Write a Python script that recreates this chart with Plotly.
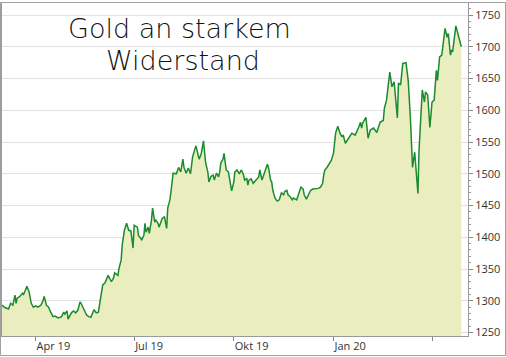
import plotly.graph_objects as go

dates = [
    "2019-03-01", "2019-03-04", "2019-03-07", "2019-03-09", "2019-03-11", "2019-03-13", "2019-03-14",
    "2019-03-15", "2019-03-17", "2019-03-20", "2019-03-21", "2019-03-24", "2019-03-26", "2019-03-28",
    "2019-03-30", "2019-04-01", "2019-04-03", "2019-04-06", "2019-04-08", "2019-04-09", "2019-04-11",
    "2019-04-13", "2019-04-15", "2019-04-17", "2019-04-19", "2019-04-22", "2019-04-25", "2019-04-27",
    "2019-04-28", "2019-04-30", "2019-05-01", "2019-05-04", "2019-05-06", "2019-05-08", "2019-05-10",
    "2019-05-12", "2019-05-13", "2019-05-15", "2019-05-18", "2019-05-20", "2019-05-22", "2019-05-24",
    "2019-05-25", "2019-05-27", "2019-05-29", "2019-05-31", "2019-06-02", "2019-06-04", "2019-06-06",
    "2019-06-07", "2019-06-10", "2019-06-12", "2019-06-13", "2019-06-16", "2019-06-17", "2019-06-19",
    "2019-06-20", "2019-06-22", "2019-06-24", "2019-06-26", "2019-06-28", "2019-06-30", "2019-07-01",
    "2019-07-04", "2019-07-05", "2019-07-08", "2019-07-10", "2019-07-11", "2019-07-12", "2019-07-14",
    "2019-07-15", "2019-07-17", "2019-07-18", "2019-07-20", "2019-07-21", "2019-07-23", "2019-07-24",
    "2019-07-27", "2019-07-29", "2019-07-31", "2019-08-01", "2019-08-03", "2019-08-04", "2019-08-06",
    "2019-08-09", "2019-08-11", "2019-08-13", "2019-08-15", "2019-08-16", "2019-08-18", "2019-08-20",
    "2019-08-22", "2019-08-24", "2019-08-27", "2019-08-28", "2019-08-30", "2019-09-01", "2019-09-03",
    "2019-09-05", "2019-09-07", "2019-09-08", "2019-09-10", "2019-09-12", "2019-09-13", "2019-09-15",
    "2019-09-17", "2019-09-18", "2019-09-19", "2019-09-21", "2019-09-22", "2019-09-24", "2019-09-26",
    "2019-09-27", "2019-09-29", "2019-10-01", "2019-10-02", "2019-10-04", "2019-10-06", "2019-10-08",
    "2019-10-10", "2019-10-11", "2019-10-13", "2019-10-14", "2019-10-15", "2019-10-17", "2019-10-19",
    "2019-10-20", "2019-10-22", "2019-10-24", "2019-10-25", "2019-10-26", "2019-10-27", "2019-10-28",
    "2019-10-30", "2019-11-01", "2019-11-02", "2019-11-04", "2019-11-05", "2019-11-06", "2019-11-08",
    "2019-11-10", "2019-11-12", "2019-11-14", "2019-11-16", "2019-11-17", "2019-11-19", "2019-11-20",
    "2019-11-22", "2019-11-24", "2019-11-25", "2019-11-28", "2019-11-29", "2019-11-30", "2019-12-02",
    "2019-12-04", "2019-12-05", "2019-12-07", "2019-12-08", "2019-12-10", "2019-12-11", "2019-12-13",
    "2019-12-16", "2019-12-18", "2019-12-20", "2019-12-22", "2019-12-23", "2019-12-24", "2019-12-26",
    "2019-12-28", "2019-12-30", "2020-01-01", "2020-01-02", "2020-01-03", "2020-01-05", "2020-01-07",
    "2020-01-09", "2020-01-10", "2020-01-12", "2020-01-14", "2020-01-15", "2020-01-18", "2020-01-21",
    "2020-01-24", "2020-01-26", "2020-01-27", "2020-01-28", "2020-01-31", "2020-02-02", "2020-02-04",
    "2020-02-07", "2020-02-10", "2020-02-13", "2020-02-16", "2020-02-17", "2020-02-19", "2020-02-20",
    "2020-02-22", "2020-02-24", "2020-02-26", "2020-02-29", "2020-03-01", "2020-03-03", "2020-03-05",
    "2020-03-08", "2020-03-10", "2020-03-12", "2020-03-14", "2020-03-16", "2020-03-19", "2020-03-20",
    "2020-03-23", "2020-03-25", "2020-03-26", "2020-03-28", "2020-03-30", "2020-04-01", "2020-04-03",
    "2020-04-05", "2020-04-06", "2020-04-08", "2020-04-10", "2020-04-13", "2020-04-15", "2020-04-16",
    "2020-04-18", "2020-04-19", "2020-04-20", "2020-04-23", "2020-04-25", "2020-04-28",
]

gold = [
    1293, 1289, 1287, 1296, 1293, 1309, 1296,
    1304, 1306, 1312, 1310, 1323, 1314, 1296,
    1290, 1292, 1290, 1293, 1301, 1307, 1293,
    1290, 1282, 1275, 1276, 1273, 1275, 1282,
    1279, 1284, 1271, 1281, 1284, 1281, 1285,
    1298, 1296, 1289, 1278, 1275, 1274, 1282,
    1286, 1281, 1282, 1304, 1325, 1328, 1337,
    1340, 1330, 1336, 1344, 1340, 1351, 1364,
    1388, 1411, 1422, 1411, 1410, 1383, 1419,
    1416, 1403, 1396, 1403, 1422, 1408, 1416,
    1406, 1427, 1446, 1424, 1427, 1422, 1416,
    1430, 1432, 1414, 1446, 1459, 1472, 1501,
    1500, 1510, 1503, 1523, 1510, 1501, 1509,
    1500, 1527, 1544, 1537, 1523, 1532, 1552,
    1517, 1503, 1487, 1496, 1498, 1490, 1501,
    1495, 1503, 1517, 1523, 1532, 1506, 1503,
    1493, 1473, 1487, 1503, 1506, 1500, 1506,
    1498, 1490, 1493, 1482, 1490, 1492, 1485,
    1487, 1492, 1495, 1506, 1500, 1490, 1495,
    1506, 1515, 1510, 1490, 1487, 1474, 1462,
    1457, 1459, 1470, 1467, 1472, 1474, 1467,
    1464, 1459, 1462, 1459, 1464, 1470, 1479,
    1476, 1467, 1460, 1464, 1472, 1474, 1476,
    1476, 1477, 1479, 1485, 1498, 1506, 1510,
    1515, 1521, 1532, 1553, 1564, 1575, 1564,
    1558, 1561, 1548, 1555, 1556, 1564, 1561,
    1572, 1581, 1572, 1580, 1589, 1556, 1569,
    1572, 1565, 1581, 1584, 1603, 1616, 1632,
    1660, 1637, 1645, 1588, 1643, 1640, 1674,
    1675, 1647, 1589, 1510, 1534, 1469, 1537,
    1632, 1613, 1629, 1624, 1573, 1613, 1616,
    1663, 1647, 1684, 1687, 1729, 1715, 1721,
    1687, 1695, 1692, 1733, 1721, 1700,
]

tick_dates = ["2019-04-01", "2019-07-01", "2019-10-01", "2020-01-01", "2020-04-01"]
tick_labels = ["Apr 19", "Jul 19", "Okt 19", "Jan 20", ""]
y_ticks = [1250, 1300, 1350, 1400, 1450, 1500, 1550, 1600, 1650, 1700, 1750]
title_lines = ["Gold an starkem", "Widerstand"]

fig = go.Figure()
fig.add_trace(go.Scatter(
    x=dates, y=gold, mode="lines",
    line=dict(color="#1b8a30", width=1.5),
    fill="tozeroy", fillcolor="#eaeebf",
    hoverinfo="skip",
))

fig.update_layout(
    width=506, height=357,
    margin=dict(l=2, r=38, t=3, b=21),
    paper_bgcolor="white", plot_bgcolor="white",
    showlegend=False,
    font=dict(family="Open Sans", size=11, color="#333333"),
    xaxis=dict(
        type="date",
        range=["2019-03-01", "2020-05-04 05:00"],
        tickvals=tick_dates, ticktext=tick_labels,
        ticks="outside", ticklen=4, tickcolor="#888888",
        ticklabelposition="outside right",
        showgrid=False, zeroline=False,
        showline=True, linecolor="#999999", linewidth=1, mirror=True,
        tickfont=dict(size=11, color="#333333"),
    ),
    yaxis=dict(
        side="right",
        range=[1244.5, 1769],
        tickvals=y_ticks,
        ticks="outside", ticklen=4, tickcolor="#888888",
        minor=dict(dtick=10, ticks="outside", ticklen=2, tickcolor="#999999", showgrid=False),
        showgrid=True, gridcolor="#e3e3e3", gridwidth=1,
        zeroline=False,
        showline=True, linecolor="#999999", linewidth=1, mirror=True,
        tickfont=dict(size=11, color="#333333"),
    ),
)

fig.add_annotation(
    text=title_lines[0], xref="paper", yref="paper", x=0.380, y=0.922,
    xanchor="center", yanchor="middle", showarrow=False,
    font=dict(family="DejaVu Sans", size=27, color="#111111", weight=300),
)
fig.add_annotation(
    text=title_lines[1], xref="paper", yref="paper", x=0.389, y=0.826,
    xanchor="center", yanchor="middle", showarrow=False,
    font=dict(family="DejaVu Sans", size=27, color="#111111", weight=300),
)

fig.add_shape(
    type="rect", xref="paper", yref="paper",
    x0=-0.0032, x1=1.0805, y0=-0.0586, y1=1.0015,
    line=dict(color="#a0a0a0", width=1), fillcolor="rgba(0,0,0,0)",
    layer="above",
)

fig.write_html(
    "out.html",
    config={"displayModeBar": False},
    post_script="document.body.style.margin='0';document.body.style.overflow='hidden';",
)
